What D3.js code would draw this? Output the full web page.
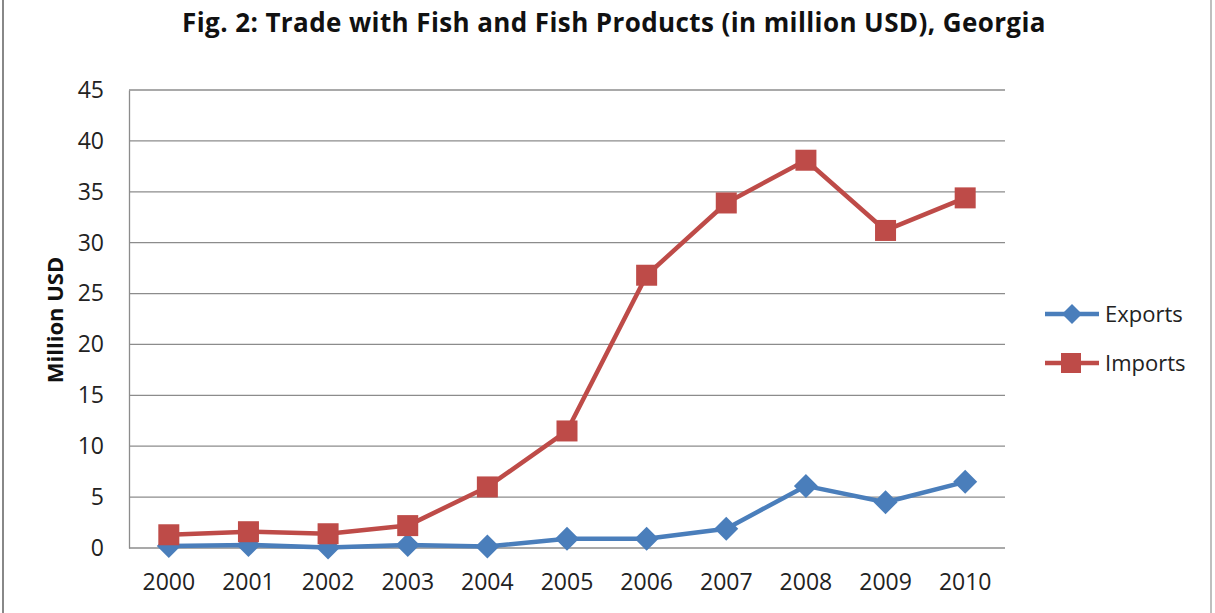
<!DOCTYPE html>
<html>
<head>
<meta charset="utf-8">
<script src="https://cdn.jsdelivr.net/npm/d3@7"></script>
<style>
  body { margin: 0; background: #fff; }
  svg { display: block; font-family: "Open Sans", Lato, sans-serif; }
</style>
</head>
<body>
<div id="chart"></div>
<script>
const years = ["2000","2001","2002","2003","2004","2005","2006","2007","2008","2009","2010"];
const exportsVals = [0.2, 0.3, 0.05, 0.3, 0.15, 0.9, 0.9, 1.9, 6.1, 4.5, 6.5];
const importsVals = [1.3, 1.6, 1.4, 2.2, 6.0, 11.5, 26.8, 33.9, 38.1, 31.2, 34.4];
const yTicks = [0, 5, 10, 15, 20, 25, 30, 35, 40, 45];
const seriesNames = ["Exports", "Imports"];

const width = 1215, height = 613;
const margin = { top: 90, right: 210, bottom: 65, left: 129 };
const innerW = width - margin.left - margin.right;
const innerH = height - margin.top - margin.bottom;

const blue = "#4a7ebb", red = "#be4b48";
const font = "'Open Sans', Lato, sans-serif";

const svg = d3.select("#chart").append("svg")
  .attr("width", width)
  .attr("height", height);

// outer frame lines
svg.append("line").attr("x1", 3).attr("x2", 3).attr("y1", 0).attr("y2", height)
  .attr("stroke", "#888").attr("stroke-width", 2);
svg.append("line").attr("x1", 1211).attr("x2", 1211).attr("y1", 0).attr("y2", height)
  .attr("stroke", "#aaa").attr("stroke-width", 1.5);

svg.append("text")
  .attr("x", 614).attr("y", 32)
  .attr("text-anchor", "middle")
  .attr("font-size", 26).attr("font-weight", "bold").attr("fill", "#111")
  .attr("letter-spacing", 0.4)
  .text("Fig. 2: Trade with Fish and Fish Products (in million USD), Georgia");

const g = svg.append("g").attr("transform", `translate(${margin.left},${margin.top})`);

const x = d3.scaleBand().domain(years).range([0, innerW]);
const y = d3.scaleLinear().domain([0, 45]).range([innerH, 0]);

// gridlines
g.selectAll(".grid").data(yTicks).enter().append("line")
  .attr("x1", 0).attr("x2", innerW)
  .attr("y1", d => y(d)).attr("y2", d => y(d))
  .attr("stroke", "#8c8c8c").attr("stroke-width", 1.3);

// y axis
const yAxis = g.append("g").call(d3.axisLeft(y).tickValues(yTicks).tickSize(0).tickPadding(0));
yAxis.select(".domain").attr("stroke", "#8c8c8c").attr("stroke-width", 1.3);
yAxis.selectAll("text").attr("font-size", 23).attr("fill", "#222")
  .attr("font-family", font)
  .attr("x", -25).attr("text-anchor", "end");

// x axis
const xAxis = g.append("g").attr("transform", `translate(0,${innerH})`)
  .call(d3.axisBottom(x).tickSize(0).tickPadding(0));
xAxis.select(".domain").remove();
xAxis.selectAll("text").attr("font-size", 23).attr("fill", "#222")
  .attr("font-family", font)
  .attr("y", 26);

svg.append("text")
  .attr("transform", `translate(63,320) rotate(-90)`)
  .attr("text-anchor", "middle")
  .attr("font-size", 22).attr("font-weight", "bold").attr("fill", "#111")
  .text("Million USD");

const line = d3.line()
  .x((d, i) => x(years[i]) + x.bandwidth() / 2)
  .y(d => y(d));

function drawSeries(vals, color, kind) {
  g.append("path").datum(vals)
    .attr("fill", "none").attr("stroke", color).attr("stroke-width", 4.5)
    .attr("stroke-linejoin", "round")
    .attr("d", line);
  const pts = g.selectAll(null).data(vals).enter().append("g")
    .attr("transform", (d, i) => `translate(${x(years[i]) + x.bandwidth() / 2},${y(d)})`);
  if (kind === "square") {
    pts.append("rect").attr("x", -10.5).attr("y", -10.5).attr("width", 21).attr("height", 21)
      .attr("fill", color);
  } else {
    pts.append("path").attr("d", "M0,-12L12,0L0,12L-12,0Z").attr("fill", color);
  }
}

drawSeries(exportsVals, blue, "diamond");
drawSeries(importsVals, red, "square");

// legend
const legend = svg.append("g");
const legendRows = [
  { name: seriesNames[0], color: blue, kind: "diamond", y: 314 },
  { name: seriesNames[1], color: red, kind: "square", y: 363 }
];
legendRows.forEach(r => {
  legend.append("line").attr("x1", 1045).attr("x2", 1099).attr("y1", r.y).attr("y2", r.y)
    .attr("stroke", r.color).attr("stroke-width", 4.5);
  if (r.kind === "square") {
    legend.append("rect").attr("x", 1061).attr("y", r.y - 10).attr("width", 20).attr("height", 20)
      .attr("fill", r.color);
  } else {
    legend.append("path").attr("transform", `translate(1072,${r.y})`)
      .attr("d", "M0,-10L10,0L0,10L-10,0Z").attr("fill", r.color);
  }
  legend.append("text").attr("x", 1105).attr("y", r.y + 8)
    .attr("font-size", 22).attr("fill", "#222").text(r.name);
});
</script>
</body>
</html>
